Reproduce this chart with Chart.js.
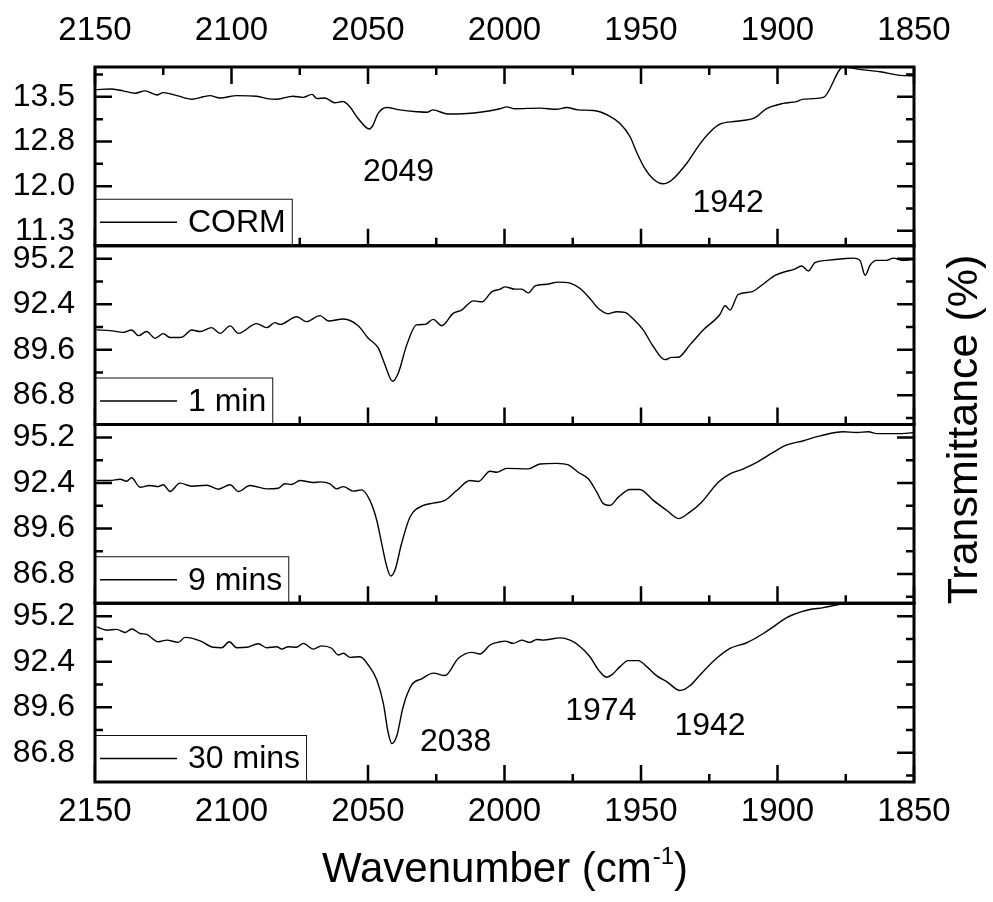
<!DOCTYPE html>
<html>
<head>
<meta charset="utf-8">
<title>IR spectra of CORM</title>
<script src="https://cdn.jsdelivr.net/npm/chart.js@4.4.1/dist/chart.umd.min.js"></script>
<style>
  html, body { margin: 0; padding: 0; background: #fff; }
  #wrap { width: 993px; height: 902px; }
</style>
</head>
<body>
<div id="wrap"><canvas id="spectra" width="993" height="902"></canvas></div>
<script>
// ---- Spectra: wavenumber (cm-1) and transmittance (%) for each sample ----
const cormWn = [2149.6, 2144.5, 2139.7, 2135.3, 2131.7, 2127.3, 2125.1, 2120.0, 2114.5, 2110.4,
  2107.9, 2104.2, 2098.0, 2090.7, 2087.0, 2083.3, 2077.5, 2073.8, 2070.5, 2068.7,
  2065.8, 2062.1, 2059.2, 2056.6, 2053.7, 2049.5, 2048.2, 2046.3, 2043.2, 2038.3,
  2032.1, 2028.4, 2026.2, 2020.7, 2013.7, 2009.0, 2001.6, 1999.2, 1996.2, 1987.0,
  1980.9, 1977.2, 1973.0, 1967.5, 1962.0, 1957.7, 1954.0, 1951.6, 1948.5, 1945.5,
  1942.0, 1938.8, 1933.3, 1928.4, 1924.7, 1921.1, 1915.0, 1908.2, 1904.0, 1897.9,
  1893.0, 1890.5, 1883.2, 1875.9, 1869.8, 1862.5, 1855.1, 1849.6];
const cormT = [13.62, 13.63, 13.60, 13.56, 13.60, 13.53, 13.57, 13.52, 13.46, 13.50,
  13.52, 13.48, 13.52, 13.51, 13.47, 13.46, 13.51, 13.49, 13.54, 13.47,
  13.48, 13.40, 13.42, 13.33, 13.14, 12.96, 13.02, 13.22, 13.32, 13.28,
  13.25, 13.24, 13.28, 13.21, 13.22, 13.24, 13.30, 13.33, 13.30, 13.31,
  13.29, 13.32, 13.28, 13.27, 13.19, 13.05, 12.83, 12.57, 12.29, 12.12,
  12.04, 12.10, 12.38, 12.71, 12.91, 13.04, 13.09, 13.15, 13.30, 13.39,
  13.42, 13.46, 13.49, 14.00, 13.96, 13.92, 13.86, 13.85];

const oneMinWn = [2149.4, 2144.5, 2139.6, 2136.6, 2134.1, 2131.1, 2128.0, 2125.0, 2122.5, 2118.2,
  2114.6, 2111.5, 2107.3, 2104.2, 2100.5, 2097.5, 2090.8, 2087.1, 2084.1, 2082.2,
  2076.1, 2072.5, 2067.6, 2064.5, 2059.0, 2053.6, 2049.9, 2046.2, 2043.8, 2041.0,
  2038.9, 2035.8, 2032.2, 2029.1, 2026.1, 2023.0, 2018.8, 2015.7, 2011.4, 2008.3,
  2004.7, 2001.6, 1999.8, 1996.2, 1993.7, 1991.3, 1988.8, 1984.5, 1980.3, 1976.0,
  1972.3, 1968.7, 1965.6, 1962.0, 1958.9, 1955.9, 1952.8, 1949.2, 1945.5, 1941.2,
  1938.8, 1936.3, 1932.1, 1927.2, 1921.1, 1919.2, 1917.4, 1914.4, 1909.5, 1905.8,
  1900.9, 1896.6, 1894.2, 1891.1, 1888.7, 1886.3, 1882.0, 1875.9, 1872.2, 1869.8,
  1867.9, 1866.1, 1863.7, 1860.0, 1857.6, 1853.9, 1849.6];
const oneMinT = [90.82, 90.78, 90.67, 90.82, 90.47, 90.72, 90.31, 90.59, 90.35, 90.37,
  90.82, 90.72, 90.96, 90.61, 91.07, 90.61, 91.21, 90.96, 91.27, 91.16,
  91.63, 91.33, 91.70, 91.37, 91.49, 91.08, 90.31, 89.70, 88.68, 87.66,
  88.17, 89.90, 91.13, 91.16, 91.47, 91.08, 91.84, 92.04, 92.61, 92.55,
  93.16, 93.33, 93.47, 93.33, 93.33, 93.10, 93.53, 93.63, 93.76, 93.70,
  93.37, 92.75, 92.14, 91.82, 91.94, 91.90, 91.49, 90.82, 89.80, 88.99,
  89.13, 89.14, 89.90, 90.82, 91.77, 92.31, 92.04, 93.00, 93.16, 93.57,
  94.18, 94.43, 94.53, 94.75, 94.45, 94.96, 95.10, 95.20, 95.24, 95.10,
  94.18, 94.80, 95.10, 95.10, 95.24, 95.10, 95.16];

const nineMinWn = [2149.4, 2144.5, 2140.8, 2138.4, 2136.6, 2133.5, 2129.9, 2126.8, 2125.0, 2122.5,
  2118.9, 2114.6, 2109.1, 2104.8, 2100.5, 2097.5, 2093.2, 2087.1, 2082.9, 2080.4,
  2078.0, 2074.9, 2070.0, 2067.6, 2063.9, 2061.5, 2059.0, 2055.4, 2052.3, 2049.3,
  2046.8, 2045.0, 2043.1, 2041.7, 2040.1, 2037.7, 2034.6, 2029.7, 2026.1, 2021.8,
  2017.5, 2012.6, 2009.6, 2005.3, 2002.9, 1999.2, 1991.3, 1987.0, 1980.9, 1976.6,
  1973.0, 1969.3, 1966.2, 1963.8, 1961.4, 1958.3, 1954.0, 1950.4, 1945.5, 1940.6,
  1936.3, 1932.1, 1927.8, 1921.7, 1917.4, 1912.5, 1907.6, 1901.6, 1896.6, 1890.5,
  1884.4, 1875.9, 1871.0, 1866.7, 1863.7, 1854.5, 1849.6];
const nineMinT = [92.55, 92.55, 92.63, 92.51, 92.72, 92.14, 92.25, 92.18, 92.29, 91.88,
  92.39, 92.20, 92.26, 92.02, 92.29, 91.88, 92.25, 92.04, 92.08, 92.35,
  92.31, 92.55, 92.43, 92.47, 92.35, 92.04, 92.18, 91.90, 91.98, 91.33,
  90.11, 88.68, 87.25, 86.68, 87.05, 88.68, 90.31, 91.02, 91.16, 91.33,
  91.94, 92.55, 92.49, 93.12, 93.06, 93.30, 93.27, 93.57, 93.61, 93.51,
  93.06, 92.66, 91.84, 91.13, 91.02, 91.53, 92.00, 92.00, 91.33, 90.72,
  90.21, 90.61, 91.22, 92.45, 92.96, 93.27, 93.67, 94.28, 94.74, 95.00,
  95.30, 95.55, 95.51, 95.55, 95.44, 95.44, 95.51];

const thirtyMinWn = [2149.4, 2145.7, 2142.1, 2139.0, 2136.6, 2133.5, 2131.1, 2126.8, 2123.7, 2119.5,
  2117.0, 2111.5, 2106.7, 2103.6, 2100.8, 2098.1, 2094.4, 2090.2, 2087.1, 2083.4,
  2081.6, 2079.2, 2076.1, 2073.7, 2070.0, 2067.0, 2063.3, 2060.9, 2059.0, 2056.6,
  2052.9, 2049.9, 2046.8, 2044.4, 2042.6, 2041.3, 2039.5, 2037.1, 2034.0, 2030.3,
  2026.1, 2021.8, 2016.9, 2012.0, 2009.0, 2005.3, 2001.6, 1999.8, 1996.8, 1993.7,
  1990.7, 1988.2, 1985.8, 1979.7, 1976.0, 1973.0, 1968.7, 1965.6, 1962.6, 1960.7,
  1957.7, 1954.7, 1951.0, 1947.9, 1944.2, 1940.6, 1935.7, 1932.1, 1928.4, 1922.3,
  1917.4, 1911.3, 1905.2, 1901.6, 1896.6, 1889.3, 1883.2, 1876.9, 1870.0, 1860.0,
  1850.0];
const thirtyMinT = [94.55, 94.34, 94.39, 94.20, 94.42, 94.14, 94.08, 93.63, 93.73, 93.59,
  93.90, 93.69, 93.29, 93.26, 93.63, 93.26, 93.29, 93.51, 93.26, 93.32,
  93.18, 93.32, 93.29, 93.53, 93.18, 93.38, 93.23, 92.82, 92.92, 92.67,
  92.71, 92.20, 91.29, 89.86, 88.03, 87.37, 87.82, 89.65, 90.98, 91.35,
  91.70, 91.55, 92.61, 92.98, 92.88, 93.43, 93.63, 93.67, 93.53, 93.73,
  93.59, 93.77, 93.73, 93.87, 93.73, 93.43, 92.71, 91.90, 91.45, 91.59,
  92.10, 92.47, 92.47, 92.10, 91.53, 91.18, 90.63, 90.92, 91.59, 92.61,
  93.22, 93.57, 94.14, 94.55, 95.12, 95.57, 95.73, 95.93, 96.00, 96.00,
  96.00];

// ---- Axis ticks ----
const wavenumberTicks = [2150, 2100, 2050, 2000, 1950, 1900, 1850];
const cormTicks = [11.25, 12.0, 12.75, 13.5];
const kineticTicks = [86.8, 89.6, 92.4, 95.2];

// ---- Series names and peak annotations ----
const seriesNames = ['CORM', '1 min', '9 mins', '30 mins'];
const peakText = ['2049', '1942', '2038', '1974', '1942'];
const peakSeries = [0, 0, 3, 3, 3];
const peakAtWn = [2038.8, 1918.1, 2017.9, 1964.7, 1924.7];
const peakAtT = [12.23, 11.72, 87.46, 89.36, 88.44];

// ---- Layout / style constants ----
const FONT = '"Liberation Sans", Arial, Helvetica, sans-serif';
const LEFT_GUTTER = 95;
const TOP_GUTTER = 67;
const BOTTOM_GUTTER = 120;
const RIGHT_GUTTER = 79;
const MAJOR_LEN = 17;
const MINOR_LEN = 8;

const panels = [
  { axis: 'yCorm',   wn: cormWn,      t: cormT,      ticks: cormTicks,    min: 11, max: 14, weight: 4 },
  { axis: 'yOne',    wn: oneMinWn,    t: oneMinT,    ticks: kineticTicks, min: 85, max: 96, weight: 3 },
  { axis: 'yNine',   wn: nineMinWn,   t: nineMinT,   ticks: kineticTicks, min: 85, max: 96, weight: 2 },
  { axis: 'yThirty', wn: thirtyMinWn, t: thirtyMinT, ticks: kineticTicks, min: 85, max: 96, weight: 1 }
];

function xAxis(position, height, padding) {
  return {
    type: 'linear', position, axis: 'x',
    min: 1850, max: 2150, reverse: true,
    grid: { display: false }, border: { display: false },
    afterBuildTicks: s => { s.ticks = wavenumberTicks.map(v => ({ value: v })); },
    afterFit: s => { s.height = height; },
    ticks: { autoSkip: false, maxRotation: 0, padding, color: '#000',
             font: { family: FONT, size: 33 }, callback: v => String(v) }
  };
}

function yAxis(p) {
  return {
    type: 'linear', position: 'left', stack: 'spectra', stackWeight: 1, weight: p.weight,
    min: p.min, max: p.max,
    grid: { display: false }, border: { display: false },
    afterBuildTicks: s => { s.ticks = p.ticks.map(v => ({ value: v })); },
    afterFit: s => { s.width = LEFT_GUTTER; },
    ticks: { autoSkip: false, padding: 12, color: '#000',
             font: { family: FONT, size: 32 }, callback: v => Number(v).toFixed(1) }
  };
}

// Frame, inward tick marks, per-panel legends, peak labels and axis titles
const spectraDecor = {
  id: 'spectraDecor',
  afterDatasetsDraw(chart) {
    const { ctx, chartArea: a, scales } = chart;
    const xs = scales.x;
    const xMinor = wavenumberTicks.slice(1).map((v, i) => (v + wavenumberTicks[i]) / 2);
    ctx.save();
    ctx.strokeStyle = '#000';
    ctx.fillStyle = '#000';
    ctx.lineCap = 'butt';

    // tick marks
    panels.forEach((p, idx) => {
      const ys = scales[p.axis];
      const step = p.ticks[1] - p.ticks[0];
      const yMinor = [];
      for (let v = p.ticks[0] - step / 2; v <= p.max + 1e-9; v += step) {
        if (v >= p.min) yMinor.push(v);
      }
      ctx.lineWidth = 2.5;
      ctx.beginPath();
      const yTick = (v, len) => {
        const py = ys.getPixelForValue(v);
        ctx.moveTo(a.left, py); ctx.lineTo(a.left + len, py);
        ctx.moveTo(a.right, py); ctx.lineTo(a.right - len, py);
      };
      const xTick = (v, len) => {
        const px = xs.getPixelForValue(v);
        ctx.moveTo(px, ys.bottom); ctx.lineTo(px, ys.bottom - len);
        if (idx === 0) { ctx.moveTo(px, ys.top); ctx.lineTo(px, ys.top + len); }
      };
      p.ticks.forEach(v => yTick(v, MAJOR_LEN));
      yMinor.forEach(v => yTick(v, MINOR_LEN));
      wavenumberTicks.forEach(v => xTick(v, MAJOR_LEN));
      xMinor.forEach(v => xTick(v, MINOR_LEN));
      ctx.stroke();
    });

    // legends in the lower-left corner of each panel
    ctx.font = `32px ${FONT}`;
    panels.forEach((p, idx) => {
      const ys = scales[p.axis];
      const label = seriesNames[idx];
      const tw = ctx.measureText(label).width;
      const bh = 47, bw = 93 + tw + 7;
      const bx = a.left, by = ys.bottom - bh;
      ctx.fillStyle = '#fff';
      ctx.fillRect(bx, by, bw, bh);
      ctx.lineWidth = 1;
      ctx.strokeStyle = '#111';
      ctx.strokeRect(bx + 0.5, by + 0.5, bw - 1, bh - 1);
      ctx.strokeStyle = '#000';
      ctx.lineWidth = 1.3;
      ctx.beginPath();
      ctx.moveTo(bx + 5, by + bh / 2);
      ctx.lineTo(bx + 82, by + bh / 2);
      ctx.stroke();
      ctx.fillStyle = '#000';
      ctx.textAlign = 'left';
      ctx.textBaseline = 'middle';
      ctx.fillText(label, bx + 93, by + bh / 2 + 1);
    });

    // peak labels
    ctx.textAlign = 'center';
    ctx.textBaseline = 'middle';
    peakText.forEach((txt, i) => {
      const ys = scales[panels[peakSeries[i]].axis];
      ctx.fillText(txt, xs.getPixelForValue(peakAtWn[i]), ys.getPixelForValue(peakAtT[i]));
    });

    // panel frames
    ctx.lineWidth = 3;
    ctx.strokeStyle = '#000';
    panels.forEach(p => {
      const ys = scales[p.axis];
      ctx.strokeRect(a.left, ys.top, a.right - a.left, ys.bottom - ys.top);
    });

    // x-axis title with superscript
    const baseY = a.bottom + 100;
    ctx.textAlign = 'left';
    ctx.textBaseline = 'alphabetic';
    ctx.font = `42px ${FONT}`;
    const s1 = 'Wavenumber (cm', s3 = ')';
    const w1 = ctx.measureText(s1).width;
    const w3 = ctx.measureText(s3).width;
    ctx.font = `24px ${FONT}`;
    const s2 = '-1';
    const w2 = ctx.measureText(s2).width;
    const x0 = (a.left + a.right) / 2 - (w1 + w2 + w3) / 2;
    ctx.font = `42px ${FONT}`;
    ctx.fillText(s1, x0, baseY);
    ctx.fillText(s3, x0 + w1 + w2 + 1, baseY);
    ctx.font = `24px ${FONT}`;
    ctx.fillText(s2, x0 + w1 + 1, baseY - 18);

    // right-hand y-axis title
    ctx.font = `43px ${FONT}`;
    ctx.translate(a.right + 51, (a.top + a.bottom) / 2 + 5);
    ctx.rotate(-Math.PI / 2);
    ctx.textAlign = 'center';
    ctx.textBaseline = 'middle';
    ctx.fillText('Transmittance (%)', 0, 0);
    ctx.restore();
  }
};

const scales = {
  x: xAxis('bottom', BOTTOM_GUTTER, 2),
  xTop: xAxis('top', TOP_GUTTER, 8)
};
// bottom panel first: left-stacked axes are laid out from the highest weight downwards
[...panels].reverse().forEach(p => { scales[p.axis] = yAxis(p); });

new Chart(document.getElementById('spectra'), {
  type: 'line',
  data: {
    datasets: panels.map((p, i) => ({
      label: seriesNames[i],
      yAxisID: p.axis,
      xAxisID: 'x',
      data: p.wn.map((w, k) => ({ x: w, y: p.t[k] })),
      borderColor: '#000',
      borderWidth: 1.4,
      pointRadius: 0,
      fill: false,
      cubicInterpolationMode: 'monotone'
    }))
  },
  options: {
    responsive: false,
    animation: false,
    layout: { padding: { left: 0, top: 0, bottom: 0, right: RIGHT_GUTTER } },
    plugins: { legend: { display: false }, tooltip: { enabled: false } },
    scales
  },
  plugins: [spectraDecor]
});
</script>
</body>
</html>
